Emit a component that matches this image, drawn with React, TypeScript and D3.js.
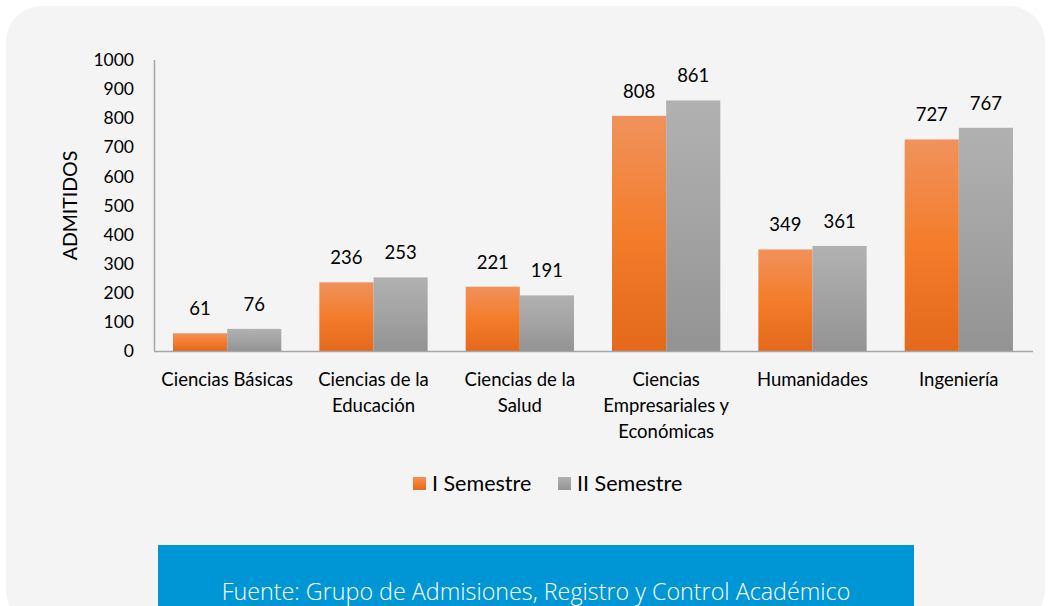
import React from "react";
import * as d3 from "d3";

const categories: string[][] = [
  ["Ciencias Básicas"],
  ["Ciencias de la", "Educación"],
  ["Ciencias de la", "Salud"],
  ["Ciencias", "Empresariales y", "Económicas"],
  ["Humanidades"],
  ["Ingeniería"],
];
const seriesNames = ["I Semestre", "II Semestre"];
const semestre1 = [61, 236, 221, 808, 349, 727];
const semestre2 = [76, 253, 191, 861, 361, 767];
const yTicks = [0, 100, 200, 300, 400, 500, 600, 700, 800, 900, 1000];
const yTitle = "ADMITIDOS";
const source = "Fuente: Grupo de Admisiones, Registro y Control Académico";

const W = 1050;
const H = 606;
const FONT = "Lato, 'Open Sans', sans-serif";

export default function App() {
  const keys = categories.map((c) => c.join(" "));
  const x = d3.scaleBand<string>().domain(keys).range([154, 1032]).paddingInner(0.26).paddingOuter(0.13);
  const xs = d3.scaleBand<string>().domain(seriesNames).range([0, x.bandwidth()]);
  const y = d3.scaleLinear().domain([0, 1000]).range([351, 60]);
  const series = [semestre1, semestre2];
  const fills = ["url(#gOrange)", "url(#gGray)"];

  return (
    <svg width={W} height={H} style={{ position: "absolute", left: 0, top: 0, display: "block", background: "#ffffff" }}>
      <defs>
        <linearGradient id="gOrange" x1="0" y1="0" x2="0" y2="1">
          <stop offset="0" stopColor="#f0925c" />
          <stop offset="0.5" stopColor="#f47c2b" />
          <stop offset="1" stopColor="#e4691b" />
        </linearGradient>
        <linearGradient id="gGray" x1="0" y1="0" x2="0" y2="1">
          <stop offset="0" stopColor="#b1b1b1" />
          <stop offset="0.5" stopColor="#a3a3a3" />
          <stop offset="1" stopColor="#939393" />
        </linearGradient>
      </defs>
      <rect x={6} y={6} width={1039} height={620} rx={36} ry={36} fill="#f4f4f4" />

      {/* y axis */}
      <line x1={154.5} x2={154.5} y1={y(1000)} y2={y(0)} stroke="#a6a6a6" strokeWidth={1.5} />
      {yTicks.map((t) => (
        <text key={t} x={134} y={y(t)} dy="0.35em" textAnchor="end" fontFamily={FONT} fontSize={17.5} fill="#000">
          {t}
        </text>
      ))}
      <text
        transform={`translate(77,${(y(0) + y(1000)) / 2}) rotate(-90)`}
        textAnchor="middle"
        fontFamily={FONT}
        fontSize={19.5}
        fill="#000"
      >
        {yTitle}
      </text>

      {/* bars */}
      {series.map((vals, si) =>
        vals.map((v, ci) => {
          const bx = (x(keys[ci]) as number) + (xs(seriesNames[si]) as number);
          const bw = xs.bandwidth();
          return (
            <g key={`${si}-${ci}`}>
              <rect x={bx} y={y(v)} width={bw} height={y(0) - y(v)} fill={fills[si]} />
              <text x={bx + bw / 2} y={y(v) - 18} textAnchor="middle" fontFamily={FONT} fontSize={18.5} fill="#000">
                {v}
              </text>
            </g>
          );
        })
      )}

      {/* x axis */}
      <line x1={154} x2={1033} y1={351.5} y2={351.5} stroke="#a6a6a6" strokeWidth={1.5} />
      {categories.map((lines, ci) => (
        <text key={ci} textAnchor="middle" fontFamily={FONT} fontSize={18.5} fill="#000">
          {lines.map((l, li) => (
            <tspan key={li} x={(x(keys[ci]) as number) + x.bandwidth() / 2} y={386 + li * 26}>
              {l}
            </tspan>
          ))}
        </text>
      ))}

      {/* legend */}
      {seriesNames.map((s, i) => {
        const lx = [413, 558][i];
        return (
          <g key={s}>
            <rect x={lx} y={477} width={13} height={13} fill={fills[i]} />
            <text x={lx + 19} y={483.5} dy="0.35em" fontFamily={FONT} fontSize={21.5} fill="#000">
              {s}
            </text>
          </g>
        );
      })}

      {/* source box */}
      <rect x={158} y={545} width={756} height={70} fill="#0096d6" />
      <text x={536} y={600} textAnchor="middle" fontFamily="'Open Sans', sans-serif" fontWeight={300} fontSize={23.3} fill="#ffffff">
        {source}
      </text>
    </svg>
  );
}
